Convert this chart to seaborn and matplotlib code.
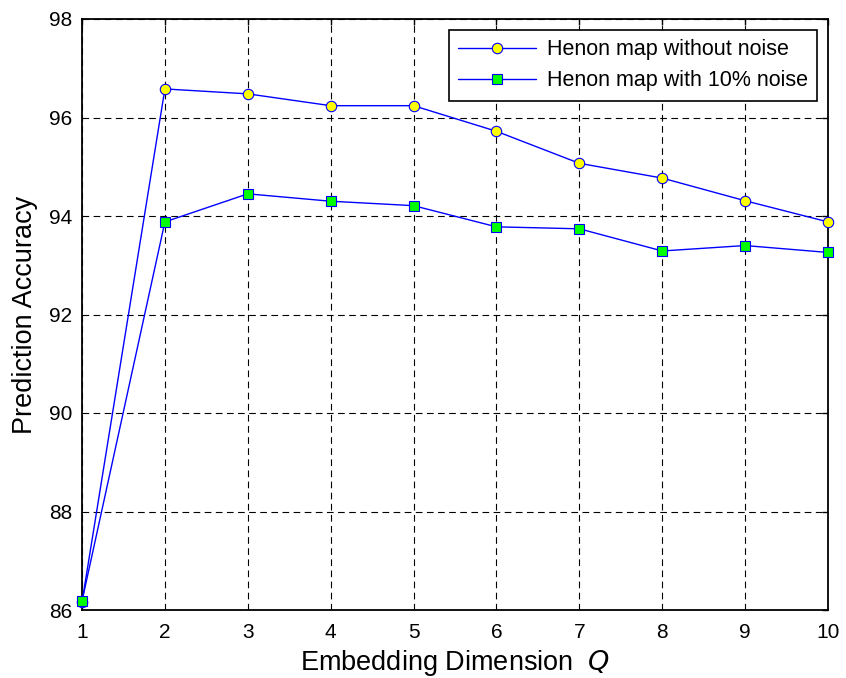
import numpy as np
import pandas as pd
import matplotlib
matplotlib.use("Agg")
import matplotlib.pyplot as plt
import seaborn as sns

# Data
dims = [1, 2, 3, 4, 5, 6, 7, 8, 9, 10]
acc_clean = [86.16, 96.58, 96.48, 96.24, 96.24, 95.72, 95.07, 94.77, 94.31, 93.88]
acc_noise = [86.18, 93.88, 94.45, 94.30, 94.21, 93.78, 93.74, 93.29, 93.40, 93.26]
label_clean = "Henon map without noise"
label_noise = "Henon map with 10% noise"
yticks = [86, 88, 90, 92, 94, 96, 98]

sns.set_style("white")
plt.rcParams['font.family'] = ['Liberation Sans', 'DejaVu Sans']
plt.rcParams['text.color'] = 'black'
plt.rcParams['axes.labelcolor'] = 'black'
plt.rcParams['xtick.color'] = 'black'
plt.rcParams['ytick.color'] = 'black'

fig = plt.figure(figsize=(8.46, 6.78), dpi=100)
ax = fig.add_axes([82/846, 68/678, (828-82)/846, (610-19)/678])

df1 = pd.DataFrame({"Q": dims, "acc": acc_clean})
df2 = pd.DataFrame({"Q": dims, "acc": acc_noise})

sns.lineplot(data=df1, x="Q", y="acc", ax=ax, color="#0000ff", linewidth=1.0,
             marker="o", markersize=7.5, markerfacecolor="#ffff00",
             markeredgecolor="#0000ff", markeredgewidth=0.8, label=label_clean,
             clip_on=False, zorder=3)
sns.lineplot(data=df2, x="Q", y="acc", ax=ax, color="#0000ff", linewidth=1.0,
             marker="s", markersize=7, markerfacecolor="#00ff00",
             markeredgecolor="#0000ff", markeredgewidth=0.8, label=label_noise,
             clip_on=False, zorder=4)

ax.set_xlim(1, 10)
ax.set_ylim(86, 98)
ax.set_xticks(dims)
ax.set_yticks(yticks)
ax.tick_params(axis="both", direction="in", length=4, width=1, labelsize=15,
               top=True, right=True, colors="black", labelcolor="black")
ax.tick_params(axis="y", pad=7)
ax.tick_params(axis="x", pad=9)
for sp in ax.spines.values():
    sp.set_visible(True)
    sp.set_color("black")
    sp.set_linewidth(1.3)

ax.grid(True, linestyle=(0, (6, 4)), color="black", linewidth=0.8)
ax.set_axisbelow(True)

ax.set_xlabel("Embedding Dimension  $Q$", fontsize=19.5, labelpad=5, color="black")
ax.set_ylabel("Prediction Accuracy", fontsize=19.5, labelpad=8, color="black")

leg = ax.legend(loc="upper right", fontsize=15.5, frameon=True, fancybox=False,
                edgecolor="black", framealpha=1, handlelength=3.6, handletextpad=0.5,
                borderaxespad=0.5, labelspacing=0.45, borderpad=0.45)
leg.get_frame().set_linewidth(1.2)
for t in leg.get_texts():
    t.set_color("black")

fig.savefig("out.png", dpi=100)
